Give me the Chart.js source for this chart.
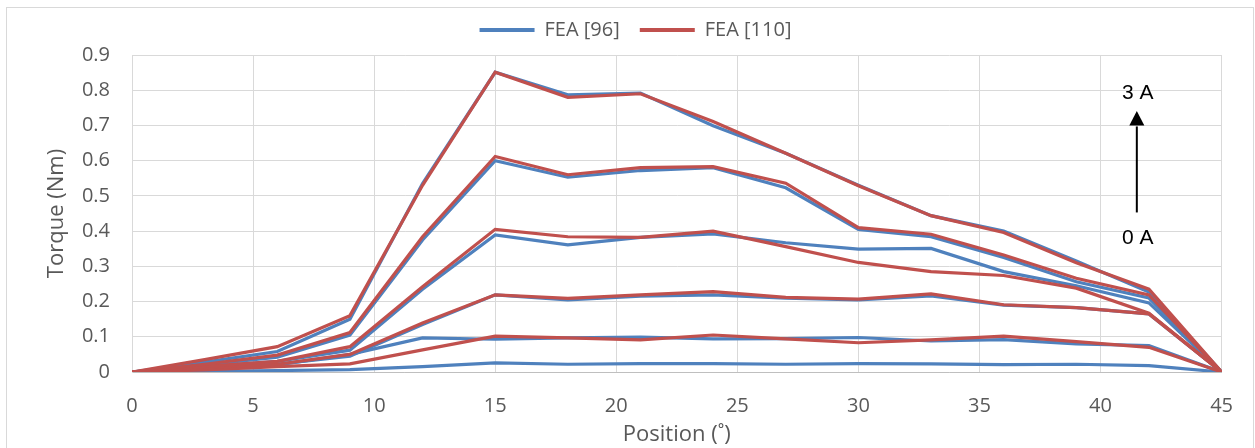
<!DOCTYPE html>
<html>
<head>
<meta charset="utf-8">
<script src="https://cdn.jsdelivr.net/npm/chart.js@4"></script>
<style>
  html, body { margin: 0; padding: 0; background: #ffffff; }
  #wrap { width: 1255px; height: 448px; position: relative; }
</style>
</head>
<body>
<div id="wrap"><canvas id="torque" width="1255" height="448"></canvas></div>
<script>
// Rotor position (degrees)
const positions = [0, 3, 6, 9, 12, 15, 18, 21, 24, 27, 30, 33, 36, 39, 42, 45];

// FEA [96] torque curves (Nm), lowest to highest current
const fea96_a = [0, 0.002, 0.004, 0.007, 0.015, 0.026, 0.022, 0.024, 0.024, 0.022, 0.024, 0.023, 0.021, 0.022, 0.018, 0];
const fea96_b = [0, 0.008, 0.020, 0.050, 0.097, 0.093, 0.097, 0.099, 0.094, 0.095, 0.098, 0.088, 0.092, 0.080, 0.075, 0];
const fea96_c = [0, 0.010, 0.022, 0.045, 0.135, 0.219, 0.205, 0.215, 0.219, 0.210, 0.205, 0.216, 0.190, 0.183, 0.165, 0];
const fea96_d = [0, 0.015, 0.030, 0.062, 0.235, 0.389, 0.361, 0.382, 0.392, 0.367, 0.349, 0.351, 0.285, 0.245, 0.196, 0];
const fea96_e = [0, 0.020, 0.042, 0.105, 0.375, 0.600, 0.553, 0.572, 0.580, 0.523, 0.405, 0.384, 0.325, 0.256, 0.210, 0];
const fea96_f = [0, 0.028, 0.058, 0.150, 0.535, 0.851, 0.787, 0.792, 0.699, 0.621, 0.530, 0.444, 0.400, 0.315, 0.227, 0];

// FEA [110] torque curves (Nm), lowest to highest current
const fea110_b = [0, 0.006, 0.015, 0.023, 0.063, 0.102, 0.097, 0.091, 0.105, 0.094, 0.083, 0.091, 0.102, 0.086, 0.070, 0];
const fea110_c = [0, 0.012, 0.022, 0.050, 0.139, 0.219, 0.209, 0.219, 0.228, 0.212, 0.207, 0.222, 0.191, 0.183, 0.165, 0];
const fea110_d = [0, 0.016, 0.030, 0.072, 0.242, 0.405, 0.384, 0.382, 0.400, 0.356, 0.311, 0.285, 0.274, 0.238, 0.167, 0];
const fea110_e = [0, 0.022, 0.048, 0.112, 0.384, 0.612, 0.560, 0.580, 0.583, 0.536, 0.410, 0.391, 0.332, 0.266, 0.219, 0];
const fea110_f = [0, 0.035, 0.072, 0.160, 0.530, 0.851, 0.780, 0.790, 0.711, 0.621, 0.529, 0.444, 0.396, 0.310, 0.235, 0];

const seriesNames = ['FEA [96]', 'FEA [110]'];
const blue = '#4F81BD';
const red = '#C0504D';
const textGrey = '#595959';

function pts(values) {
  return values.map((v, i) => ({ x: positions[i], y: v }));
}
function curve(label, values, color, order) {
  return {
    label: label,
    data: pts(values),
    borderColor: color,
    backgroundColor: color,
    borderWidth: 3.2,
    pointRadius: 0,
    pointHoverRadius: 0,
    tension: 0,
    fill: false,
    order: order
  };
}

const datasets = [
  curve(seriesNames[0], fea96_f, blue, 1),
  curve(seriesNames[0], fea96_e, blue, 1),
  curve(seriesNames[0], fea96_d, blue, 1),
  curve(seriesNames[0], fea96_c, blue, 1),
  curve(seriesNames[0], fea96_b, blue, 1),
  curve(seriesNames[0], fea96_a, blue, 1),
  curve(seriesNames[1], fea110_f, red, 0),
  curve(seriesNames[1], fea110_e, red, 0),
  curve(seriesNames[1], fea110_d, red, 0),
  curve(seriesNames[1], fea110_c, red, 0),
  curve(seriesNames[1], fea110_b, red, 0)
];

// White page and thin outer frame
const frame = {
  id: 'frame',
  beforeDraw(chart) {
    const ctx = chart.ctx;
    ctx.save();
    ctx.fillStyle = '#ffffff';
    ctx.fillRect(0, 0, chart.width, chart.height);
    ctx.strokeStyle = '#d9d9d9';
    ctx.lineWidth = 1;
    ctx.strokeRect(6.5, 7.5, 1247, 460);
    ctx.restore();
  }
};

// Current sweep arrow: 0 A -> 3 A
const currentArrow = {
  id: 'currentArrow',
  afterDatasetsDraw(chart) {
    const { ctx, scales: { x, y } } = chart;
    const ax = x.getPixelForValue(41.5);
    const yTail = y.getPixelForValue(0.453);
    const yBase = y.getPixelForValue(0.70);
    const yTip = y.getPixelForValue(0.741);
    ctx.save();
    ctx.strokeStyle = '#000';
    ctx.fillStyle = '#000';
    ctx.lineWidth = 2;
    ctx.beginPath();
    ctx.moveTo(ax, yTail);
    ctx.lineTo(ax, yBase + 1);
    ctx.stroke();
    ctx.beginPath();
    ctx.moveTo(ax, yTip);
    ctx.lineTo(ax - 7.5, yBase);
    ctx.lineTo(ax + 7.5, yBase);
    ctx.closePath();
    ctx.fill();
    ctx.font = '21px "Liberation Sans", Arial, sans-serif';
    ctx.textAlign = 'center';
    ctx.textBaseline = 'middle';
    ctx.fillText('3 A', ax + 1, y.getPixelForValue(0.792));
    ctx.fillText('0 A', ax + 1, y.getPixelForValue(0.381));
    ctx.restore();
  }
};

const tickFont = { family: '"Open Sans", "Noto Sans", sans-serif', size: 20 };
const titleFont = { family: '"Open Sans", "Noto Sans", sans-serif', size: 22 };

new Chart(document.getElementById('torque'), {
  type: 'line',
  data: { datasets: datasets },
  options: {
    responsive: false,
    devicePixelRatio: 1,
    animation: false,
    events: [],
    layout: { padding: { left: 44, right: 28, top: 0, bottom: 0 } },
    plugins: {
      tooltip: { enabled: false },
      title: {
        display: true,
        text: '',
        weight: 500,
        padding: 0,
        font: { size: 5, lineHeight: 1 }
      },
      legend: {
        position: 'top',
        labels: {
          color: textGrey,
          font: tickFont,
          boxWidth: 55,
          boxHeight: 4,
          padding: 20,
          filter: (item, data) => item.datasetIndex === 0 || item.datasetIndex === 6,
          sort: (a, b) => a.datasetIndex - b.datasetIndex,
          generateLabels: (chart) => {
            const items = Chart.defaults.plugins.legend.labels.generateLabels(chart);
            return items.map(it => Object.assign(it, {
              fillStyle: it.strokeStyle,
              lineWidth: 0
            }));
          }
        }
      }
    },
    scales: {
      x: {
        type: 'linear',
        min: 0,
        max: 45,
        afterFit: (s) => { s.height = 76; },
        ticks: {
          stepSize: 5,
          color: textGrey,
          font: tickFont,
          padding: 22,
          maxRotation: 0,
          callback: (v) => String(v)
        },
        grid: { color: '#d9d9d9', lineWidth: 1, drawTicks: false },
        border: { color: '#bfbfbf', width: 1 },
        title: {
          display: true,
          text: 'Position (˚)',
          color: textGrey,
          font: titleFont,
          padding: { top: 0, bottom: 0 }
        }
      },
      y: {
        min: 0,
        max: 0.9,
        afterFit: (s) => { s.width = 88; },
        ticks: {
          stepSize: 0.1,
          color: textGrey,
          font: tickFont,
          padding: 22,
          callback: (v) => String(Math.round(v * 10) / 10)
        },
        grid: { color: '#d9d9d9', lineWidth: 1, drawTicks: false },
        border: { color: '#d9d9d9', width: 1 },
        title: {
          display: true,
          text: 'Torque (Nm)',
          color: textGrey,
          font: titleFont,
          padding: { top: 0, bottom: 0 }
        }
      }
    }
  },
  plugins: [frame, currentArrow]
});
</script>
</body>
</html>
